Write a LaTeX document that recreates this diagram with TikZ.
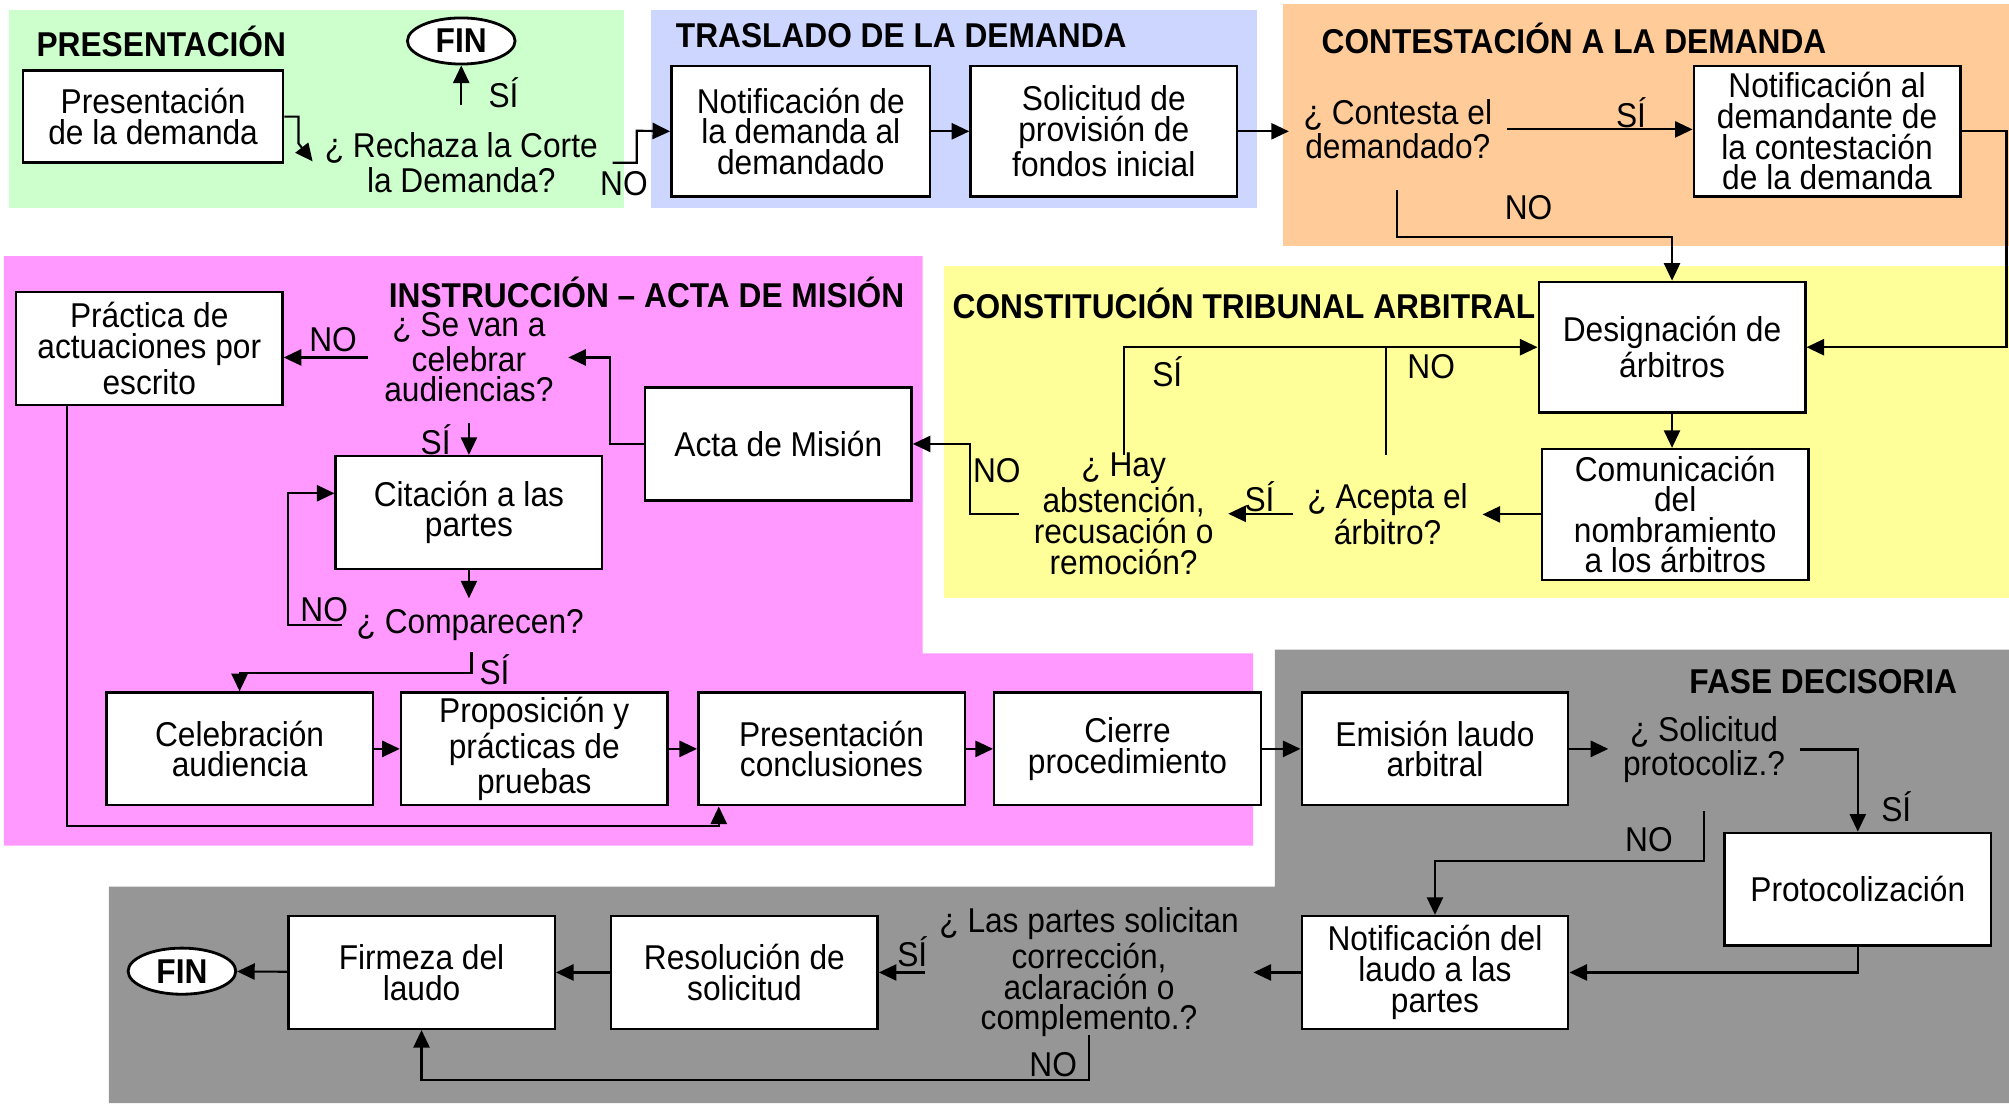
\documentclass[tikz,border=0pt]{standalone}
\usepackage{fontspec}
\setmainfont[FakeStretch=0.92]{Liberation Sans}
\usetikzlibrary{arrows.meta,shapes.geometric}

\definecolor{presGreen}{RGB}{204,255,204}
\definecolor{trasBlue}{RGB}{204,214,255}
\definecolor{contOrange}{RGB}{255,204,153}
\definecolor{tribYellow}{RGB}{255,255,153}
\definecolor{instPink}{RGB}{255,153,255}
\definecolor{decGray}{RGB}{150,150,150}

\tikzset{
	box/.style={draw, fill=white, line width=0.7pt, align=center, inner sep=1pt, minimum width=\bw*\px, minimum height=\bh*\px},
	tallbox/.style={box, minimum height=102*\px},
	quest/.style={align=center, inner xsep=4pt, inner ysep=1pt},
	title/.style={anchor=west, inner sep=0pt, font=\fontsize{9.8}{8.7}\selectfont\bfseries},
	lbl/.style={inner sep=0pt},
	fin/.style={draw, ellipse, fill=white, line width=0.8pt, inner sep=0pt, minimum width=84*\px, minimum height=36*\px, font=\fontsize{9.8}{8.7}\selectfont\bfseries},
	arr/.style={line width=0.6pt, -{Triangle[length=5pt,width=4.6pt]}},
	ln/.style={line width=0.6pt}
}

\begin{document}
\begin{tikzpicture}[x=0.12813mm, y=-0.12813mm, font=\fontsize{9.8}{8.7}\selectfont]

	\def\px{0.12813mm}	% one unit of the drawing grid
	\def\bw{208}		% width of the boxes
	\def\bh{88}			% height of the boxes

	\useasboundingbox (0,0) rectangle (1568,861);

	% backgrounds of the phases
	\fill[presGreen] (7,8) rectangle (487,162);
	\fill[trasBlue] (508,8) rectangle (981,162);
	\fill[contOrange] (1001,3) rectangle (1568,192);
	\fill[tribYellow] (737,208) rectangle (1568,467);
	\fill[instPink] (3,200) -- (720,200) -- (720,510) -- (978,510) -- (978,660) -- (3,660) -- cycle;
	\fill[decGray] (995,507) -- (1568,507) -- (1568,861) -- (85,861) -- (85,692) -- (995,692) -- cycle;

	% titles of the phases
	\node[title] (tPres) at (28,32) {PRESENTACIÓN};
	\node[title] (tTras) at (527,28) {TRASLADO DE LA DEMANDA};
	\node[title] (tCont) at (1031,30) {CONTESTACIÓN A LA DEMANDA};
	\node[title] (tInst) at (303,228) {INSTRUCCIÓN – ACTA DE MISIÓN};
	\node[title] (tTrib) at (743,237) {CONSTITUCIÓN TRIBUNAL ARBITRAL};
	\node[title, anchor=east] (tDec) at (1528,532) {FASE DECISORIA};

	% boxes
	\node[box, minimum width=203*\px, minimum height=72*\px] (pres) at (119.5,91) {Presentación\\de la demanda};
	\node[tallbox, minimum width=202*\px] (notif1) at (625,102.5) {Notificación de\\la demanda al\\demandado};
	\node[tallbox] (solic) at (861.5,102.5) {Solicitud de\\provisión de\\fondos inicial};
	\node[tallbox] (notif2) at (1426,102.5) {Notificación al\\demandante de\\la contestación\\de la demanda};
	\node[tallbox] (designa) at (1305,271) {Designación de\\árbitros};
	\node[tallbox] (comun) at (1307.5,401.5) {Comunicación\\del\\nombramiento\\a los árbitros};
	\node[box] (acta) at (607.5,346.5) {Acta de Misión};
	\node[box] (practica) at (116.5,272) {Práctica de\\actuaciones por\\escrito};
	\node[box] (citacion) at (366,400) {Citación a las\\partes};
	\foreach \name/\x/\txt in {celeb/187/{Celebración\\audiencia}, prop/417/{Proposición y\\prácticas de\\pruebas}, presc/649/{Presentación\\conclusiones}, cierre/880/{Cierre\\procedimiento}, emision/1120/{Emisión laudo\\arbitral}}{
		\node[box] (\name) at (\x,584.5) {\txt};
	}
	\node[box] (protoc) at (1450,694) {Protocolización};
	\node[box] (notif3) at (1120,759) {Notificación del\\laudo a las\\partes};
	\node[box] (resol) at (581,759) {Resolución de\\solicitud};
	\node[box] (firmeza) at (329,759) {Firmeza del\\laudo};
	\node[fin] (fin1) at (360,32) {FIN};
	\node[fin] (fin2) at (142,758) {FIN};

	% questions
	\node[quest] (rechaza) at (360,127) {¿ Rechaza la Corte\\la Demanda?};
	\node[quest] (contesta) at (1091,101) {¿ Contesta el\\demandado?};
	\node[quest] (acepta) at (1083,401) {¿ Acepta el\\árbitro?};
	\node[quest] (hay) at (877,401) {¿ Hay\\abstención,\\recusación o\\remoción?};
	\node[quest] (celebrar) at (366,279) {¿ Se van a\\celebrar\\audiencias?};
	\node[quest] (comparecen) at (367,488) {¿ Comparecen?};
	\node[quest] (solicitud) at (1330,585) {¿ Solicitud\\protocoliz.?};
	\node[quest] (correccion) at (850,759) {¿ Las partes solicitan\\corrección,\\aclaración o\\complemento.?};

	% free ends and bends of the connectors
	\coordinate (c1) at (233,112);
	\coordinate (c2) at (244,126);
	\coordinate (c3) at (360,82);
	\coordinate (c4) at (497,102);
	\coordinate (c5) at (1090,148);
	\coordinate (c6) at (1090,185);
	\coordinate (c7) at (1566,200);
	\coordinate (c8) at (1082,355);
	\coordinate (c9) at (877,355);
	\coordinate (c10) at (757,346.5);
	\coordinate (c11) at (476,300);
	\coordinate (c12) at (287,279);
	\coordinate (c13) at (366,330);
	\coordinate (c14) at (366,467);
	\coordinate (c15) at (225,385);
	\coordinate (c16) at (368,509);
	\coordinate (c17) at (368,525);
	\coordinate (c18) at (52,645);
	\coordinate (c19) at (561,645);
	\coordinate (c20) at (1330,633);
	\coordinate (c21) at (1330,672);
	\coordinate (c22) at (850,808);
	\coordinate (c23) at (850,843);

	% connectors
	\draw[arr] (pres.east) -| (c1) -- (c2);
	\draw[arr] (c3) -- (fin1.south);
	\draw[arr] (rechaza.east) -| (c4) -- (notif1.west);
	\draw[arr] (notif1) -- (solic);
	\draw[arr] (solic.east) -- (solic.east -| contesta.west);
	\draw[arr] (contesta.east) -- (contesta.east -| notif2.west);
	\draw[arr] (c5) -- (c6) -| (designa.north);
	\draw[arr] (notif2.east) -| (c7) |- (designa.east);
	\draw[arr] (designa.south) -- (designa.south |- comun.north);
	\draw[arr] (comun.west) -- (comun.west -| acepta.east);
	\draw[arr] (acepta.west) -- (acepta.west -| hay.east);
	\draw[ln] (c8) -- (c8 |- designa.west);
	\draw[arr] (c9) |- (designa.west);
	\draw[arr] (hay.west) -| (c10) -- (acta.east);
	\draw[arr] (acta.west) -| (c11) |- (celebrar.east);
	\draw[arr] (c12) -- (c12 -| practica.east);
	\draw[arr] (c13) -- (c13 |- citacion.north);
	\draw[arr] (citacion.south) -- (c14);
	\draw[arr] (comparecen.west) -| (c15) -- (c15 -| citacion.west);
	\draw[arr] (c16) -- (c17) -| (celeb.north);
	\foreach \a/\b in {celeb/prop, prop/presc, presc/cierre, cierre/emision}{
		\draw[arr] (\a) -- (\b);
	}
	\draw[arr] (c18 |- practica.south) -- (c18) -- (c19) -- (c19 |- presc.south);
	\draw[arr] (emision.east) -- (emision.east -| solicitud.west);
	\draw[arr] (solicitud.east) -| (protoc.north);
	\draw[arr] (c20) -- (c21) -| (notif3.north);
	\draw[arr] (protoc.south) |- (notif3.east);
	\draw[arr] (notif3.west) -- (notif3.west -| correccion.east);
	\draw[arr] (correccion.west) -- (correccion.west -| resol.east);
	\draw[arr] (resol) -- (firmeza);
	\draw[arr] (firmeza) -- (fin2);
	\draw[arr] (c22) -- (c23) -| (firmeza.south);

	% labels of the answers
	\node[lbl] (lSi1) at (393,72) {SÍ};
	\node[lbl] (lNo1) at (487,143) {NO};
	\node[lbl] (lSi2) at (1273,88) {SÍ};
	\node[lbl] (lNo2) at (1193,162) {NO};
	\node[lbl] (lSi3) at (911,290) {SÍ};
	\node[lbl] (lNo3) at (1117,286) {NO};
	\node[lbl] (lSi4) at (983,388) {SÍ};
	\node[lbl] (lNo4) at (778,367) {NO};
	\node[lbl] (lNo5) at (260,265) {NO};
	\node[lbl] (lSi5) at (340,343) {SÍ};
	\node[lbl] (lNo6) at (253,476) {NO};
	\node[lbl] (lSi6) at (386,523) {SÍ};
	\node[lbl] (lSi7) at (1480,630) {SÍ};
	\node[lbl] (lNo7) at (1287,655) {NO};
	\node[lbl] (lSi8) at (712,743) {SÍ};
	\node[lbl] (lNo8) at (822,831) {NO};

\end{tikzpicture}
\end{document}
